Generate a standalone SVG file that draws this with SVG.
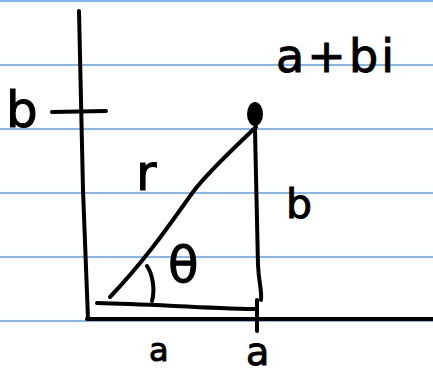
<svg xmlns="http://www.w3.org/2000/svg" width="433" height="375" viewBox="0 0 433 375">
<style>
.rule{stroke:#5b9fe6;stroke-width:1.5}
.ink{fill:none;stroke:#000;stroke-width:4;stroke-linecap:round;stroke-linejoin:round}
.t{font-family:"DejaVu Sans","Liberation Sans",sans-serif;fill:#000;stroke:#000;stroke-width:1}
</style>
<rect width="433" height="375" fill="#fff"/>
<g id="paper-lines">
<line class="rule" x1="0" y1="1" x2="433" y2="1"/>
<line class="rule" x1="0" y1="65" x2="433" y2="65"/>
<line class="rule" x1="0" y1="129" x2="433" y2="129"/>
<line class="rule" x1="0" y1="193" x2="433" y2="193"/>
<line class="rule" x1="0" y1="257" x2="433" y2="257"/>
<line class="rule" x1="0" y1="321" x2="433" y2="321"/>
</g>
<g id="axes">
<path class="ink" d="M79,11 L83,190 L88,319"/>
<path class="ink" d="M87,319 L433,319"/>
<path class="ink" d="M52,112 L106,111"/>
<path class="ink" d="M257,300 L257,331"/>
</g>
<g id="point">
<ellipse cx="255" cy="114" rx="8" ry="12" fill="#000"/>
</g>
<g id="connectors">
<path class="ink" d="M256,127 C232,150 208,172 193,192 C174,218 150,255 110,297"/>
<path class="ink" d="M255,128 C256,180 257,235 258,265 C259,285 262,290 261,300"/>
<path class="ink" d="M97,303 C150,304 200,308 255,309"/>
<path class="ink" d="M147,266 C153,275 155,290 152,301"/>
</g>
<g id="labels">
<text class="t" x="276" y="72" font-size="46" textLength="118" lengthAdjust="spacing">a+bi</text>
<text class="t" x="6" y="127" font-size="50">b</text>
<text class="t" x="136" y="190" font-size="50">r</text>
<text class="t" x="286" y="218" font-size="41">b</text>
<text class="t" x="168" y="282" font-size="50">θ</text>
<text class="t" x="149" y="361" font-size="32">a</text>
<text class="t" x="246" y="365" font-size="38">a</text>
</g>
</svg>
